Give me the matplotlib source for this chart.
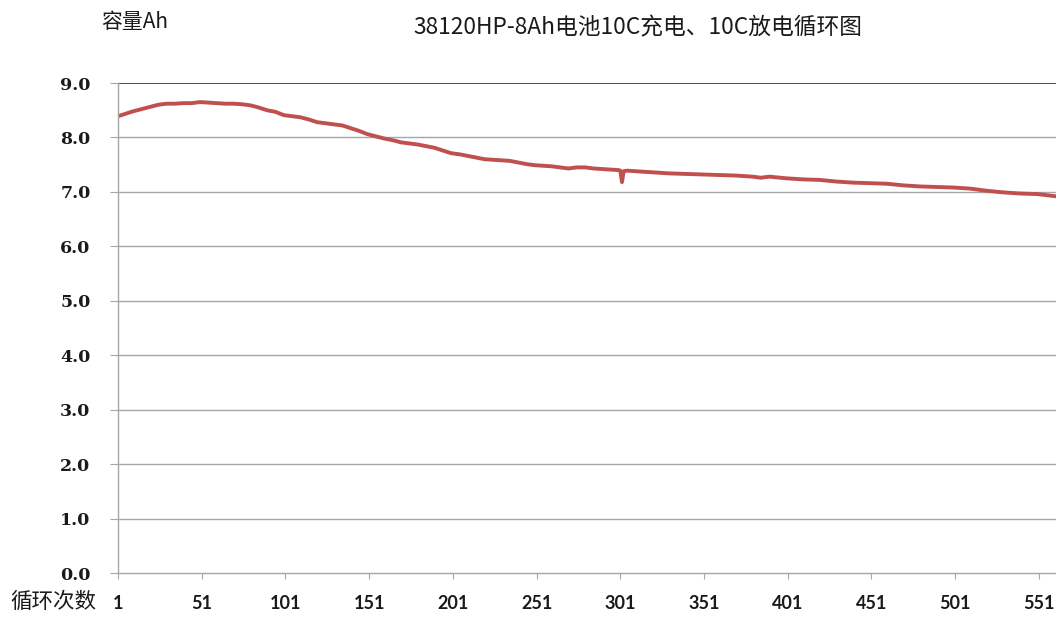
import matplotlib
matplotlib.use("Agg")
import matplotlib.pyplot as plt

plt.rcParams['font.family'] = ['Noto Sans CJK SC', 'DejaVu Sans']

title = "38120HP-8Ah电池10C充电、10C放电循环图"
ylabel = "容量Ah"
xlabel = "循环次数"

cycles = [1, 5, 10, 15, 20, 25, 30, 35, 40, 45, 50, 55, 60, 65, 70, 75, 80, 85, 90, 95,
          100, 105, 110, 115, 120, 125, 130, 135, 140, 145, 150, 155, 160, 165, 170, 175,
          180, 185, 190, 195, 200, 205, 210, 215, 220, 225, 230, 235, 240, 245, 250, 255,
          260, 265, 270, 275, 280, 285, 290, 295, 300, 301, 302, 303, 305, 310, 315, 320,
          325, 330, 340, 350, 360, 370, 380, 385, 390, 400, 410, 420, 430, 440, 450, 460,
          470, 480, 490, 500, 510, 520, 530, 540, 550, 561]
capacity = [8.39, 8.43, 8.48, 8.52, 8.56, 8.60, 8.62, 8.62, 8.63, 8.63, 8.65, 8.64, 8.63,
            8.62, 8.62, 8.61, 8.59, 8.55, 8.50, 8.47, 8.41, 8.39, 8.37, 8.33, 8.28, 8.26,
            8.24, 8.22, 8.17, 8.12, 8.06, 8.02, 7.98, 7.95, 7.91, 7.89, 7.87, 7.84, 7.81,
            7.76, 7.71, 7.69, 7.66, 7.63, 7.60, 7.59, 7.58, 7.57, 7.54, 7.51, 7.49, 7.48,
            7.47, 7.45, 7.43, 7.45, 7.45, 7.43, 7.42, 7.41, 7.40, 7.39, 7.18, 7.38, 7.39,
            7.38, 7.37, 7.36, 7.35, 7.34, 7.33, 7.32, 7.31, 7.30, 7.28, 7.26, 7.28, 7.25,
            7.23, 7.22, 7.19, 7.17, 7.16, 7.15, 7.12, 7.10, 7.09, 7.08, 7.06, 7.02, 6.99,
            6.97, 6.96, 6.92]

xticks = [1, 51, 101, 151, 201, 251, 301, 351, 401, 451, 501, 551]
yticks = [0, 1, 2, 3, 4, 5, 6, 7, 8, 9]

fig = plt.figure(figsize=(10.56, 6.19), dpi=100)
ax = fig.add_axes([118/1056, 1 - 573/619, 1 - 118/1056, (573 - 83)/619])

ax.plot(cycles, capacity, color='#C0504D', lw=2.8, solid_joinstyle='round')

ax.set_xlim(1, 561.2)
ax.set_ylim(0, 9)

for v in yticks[1:-1]:
    ax.axhline(v, color='#A6A6A6', lw=1.0, zorder=0)
ax.axhline(9, color='#404040', lw=1.3, zorder=0)

for s in ['top', 'right']:
    ax.spines[s].set_visible(False)
ax.spines['left'].set_color('#A6A6A6')
ax.spines['bottom'].set_color('#A6A6A6')
ax.spines['left'].set_linewidth(1.0)
ax.spines['bottom'].set_linewidth(1.0)

ax.set_yticks(yticks)
ax.set_yticklabels([f"{v:.1f}" for v in yticks], fontfamily='DejaVu Serif',
                   fontweight='bold', fontsize=12.5, color='#1a1a1a')
ax.set_xticks(xticks)
ax.set_xticklabels([str(v) for v in xticks], fontfamily='Lato', fontweight='bold',
                   fontsize=13, color='#1a1a1a')
ax.tick_params(axis='y', direction='out', length=5.8, color='#A6A6A6', pad=14)
ax.tick_params(axis='x', direction='out', length=4.5, color='#A6A6A6', pad=11)

fig.text(638/1056, 1 - 28/619, title, ha='center', va='center', fontsize=16.4,
         color='#1a1a1a')
fig.text(101/1056, 1 - 22/619, ylabel, ha='left', va='center', fontsize=15,
         color='#1a1a1a')
fig.text(10/1056, 1 - 602/619, xlabel, ha='left', va='center', fontsize=15.5,
         color='#1a1a1a')

fig.savefig("out.png", dpi=100)
